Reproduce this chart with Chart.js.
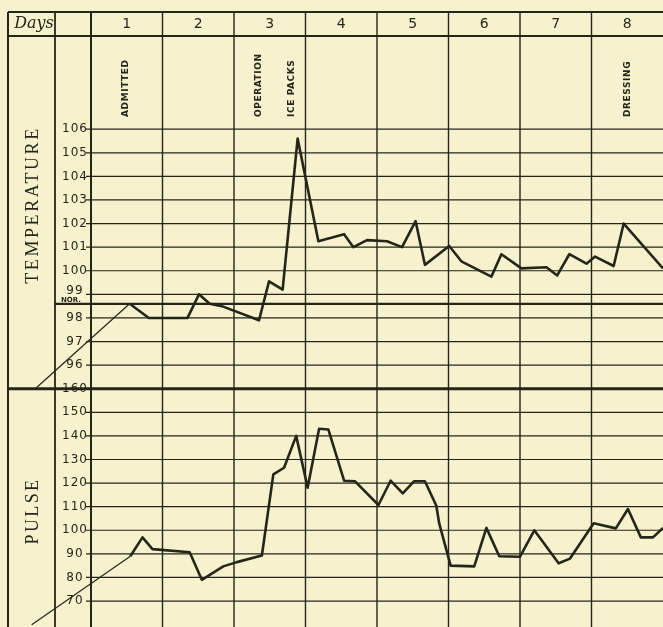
<!DOCTYPE html>
<html>
<head>
<meta charset="utf-8">
<script src="https://cdn.jsdelivr.net/npm/chart.js@4.4.1/dist/chart.umd.min.js"></script>
<style>
  html, body { margin: 0; padding: 0; background: #f5f2cd; }
  #wrap { width: 663px; height: 627px; }
</style>
</head>
<body>
<div id="wrap"><canvas id="chart" width="663" height="627"></canvas></div>
<script>
// readings: x is time in days since admission (day 1 starts at 0)
var tempDays = [0.54, 0.81, 1.35, 1.51, 1.66, 1.83, 2.35, 2.49, 2.68, 2.89, 3.18, 3.54, 3.67, 3.86,
    4.14, 4.35, 4.54, 4.67, 5.01, 5.18, 5.60, 5.74, 6.02, 6.37, 6.52, 6.69, 6.93, 7.05, 7.31, 7.45, 8.0];
var tempValues = [98.6, 98.0, 98.0, 99.0, 98.6, 98.5, 97.9, 99.55, 99.2, 105.6, 101.25, 101.55, 101.0, 101.3,
    101.25, 101.0, 102.1, 100.25, 101.05, 100.4, 99.75, 100.7, 100.1, 100.15, 99.8, 100.7, 100.3, 100.6, 100.2, 102.0, 100.1];

var pulseDays = [0.55, 0.72, 0.86, 1.38, 1.55, 1.85, 2.04, 2.39, 2.55, 2.70, 2.87, 3.03, 3.19, 3.32,
    3.54, 3.69, 4.02, 4.19, 4.36, 4.52, 4.67, 4.83, 4.87, 5.03, 5.36, 5.53, 5.71, 6.0, 6.2,
    6.54, 6.70, 7.03, 7.34, 7.51, 7.69, 7.86, 8.0];
var pulseValues = [89, 97, 92, 90.7, 79, 84.7, 86.5, 89.3, 123.7, 126.5, 140, 118, 143, 142.7,
    121, 120.8, 110.7, 121, 115.6, 120.8, 120.8, 110.4, 102.9, 85, 84.7, 101, 89, 88.8, 100,
    86, 88, 103, 100.8, 109, 97, 97, 101];

// thin lead-in lines from the margin to the first reading
var tempLeadDays = [-0.78, 0.54];
var tempLeadValues = [95, 98.6];
var pulseLeadDays = [-0.83, 0.55];
var pulseLeadValues = [60, 89];

var dayLabels = ['1', '2', '3', '4', '5', '6', '7', '8'];
var tempTicks = [106, 105, 104, 103, 102, 101, 100, 99, 98, 97, 96];
var pulseTicks = [160, 150, 140, 130, 120, 110, 100, 90, 80, 70];
var normalTemp = 98.6;
var noteLabels = ['ADMITTED', 'OPERATION', 'ICE PACKS', 'DRESSING'];
var noteDays = [0.48, 2.34, 2.8, 7.5];

var ink = '#262519';

function points(xs, ys) {
    var out = [];
    for (var i = 0; i < xs.length; i++) {
        out.push({x: xs[i], y: ys[i]});
    }
    return out;
}

var sheet = {
    id: 'sheet',
    beforeDatasetsDraw: function (chart) {
        var ctx = chart.ctx;
        var x = chart.scales.x, yT = chart.scales.yT, yP = chart.scales.yP;
        var area = chart.chartArea;
        var left = 8, labelCol = 55, top = 12;
        var right = chart.width, bottom = chart.height;

        ctx.save();
        ctx.strokeStyle = ink;
        ctx.fillStyle = ink;

        function hline(y, x0, w) {
            ctx.lineWidth = w;
            ctx.beginPath();
            ctx.moveTo(x0, y);
            ctx.lineTo(right, y);
            ctx.stroke();
        }
        function vline(xp, y0, y1, w) {
            ctx.lineWidth = w;
            ctx.beginPath();
            ctx.moveTo(xp, y0);
            ctx.lineTo(xp, y1);
            ctx.stroke();
        }

        // ruled lines
        tempTicks.forEach(function (t) { hline(yT.getPixelForValue(t), area.left - 5, 1.2); });
        pulseTicks.slice(1).forEach(function (p) { hline(yP.getPixelForValue(p), area.left - 5, 1.2); });
        hline(yT.getPixelForValue(normalTemp), labelCol, 2.2);
        hline(yP.getPixelForValue(160), left, 3);
        hline(top, left, 2);
        hline(area.top, left, 2);

        vline(left, top, bottom, 2);
        vline(labelCol, top, bottom, 1.8);
        for (var d = 0; d < dayLabels.length; d++) {
            vline(x.getPixelForValue(d), top, bottom, d === 0 ? 2 : 1.4);
        }

        // header
        ctx.textAlign = 'center';
        ctx.textBaseline = 'middle';
        ctx.font = 'italic 16px "DejaVu Serif"';
        ctx.fillText('Days', 34, 24);
        ctx.font = '14px "DejaVu Sans"';
        dayLabels.forEach(function (lab, i) {
            ctx.fillText(lab, x.getPixelForValue(i + 0.5), 24);
        });

        // tick labels
        ctx.font = '12px "DejaVu Sans"';
        ctx.letterSpacing = '1px';
        tempTicks.forEach(function (t) {
            ctx.fillText(String(t), 75, yT.getPixelForValue(t) + (t === 99 ? -3 : 0));
        });
        pulseTicks.forEach(function (p) {
            ctx.fillText(String(p), 75, yP.getPixelForValue(p));
        });
        ctx.font = 'bold 7px "DejaVu Sans"';
        ctx.letterSpacing = '0px';
        ctx.fillText('NOR.', 71, yT.getPixelForValue(normalTemp) - 4);

        // side titles
        ctx.save();
        ctx.translate(33, 205);
        ctx.rotate(-Math.PI / 2);
        ctx.font = '18px "Liberation Serif"';
        ctx.letterSpacing = '2.6px';
        ctx.fillText('TEMPERATURE', 0, 0);
        ctx.restore();

        ctx.save();
        ctx.translate(33, 511);
        ctx.rotate(-Math.PI / 2);
        ctx.font = '18px "Liberation Serif"';
        ctx.letterSpacing = '2.4px';
        ctx.fillText('PULSE', 0, 0);
        ctx.restore();

        // notes written up the columns
        ctx.font = 'bold 9px "DejaVu Sans"';
        ctx.letterSpacing = '0.6px';
        ctx.textAlign = 'left';
        noteLabels.forEach(function (lab, i) {
            ctx.save();
            ctx.translate(x.getPixelForValue(noteDays[i]), 117);
            ctx.rotate(-Math.PI / 2);
            ctx.fillText(lab, 0, 0);
            ctx.restore();
        });

        ctx.restore();
    }
};

var ctx = document.getElementById('chart').getContext('2d');
new Chart(ctx, {
    type: 'line',
    data: {
        datasets: [
            {
                data: points(tempDays, tempValues),
                yAxisID: 'yT',
                borderColor: ink,
                borderWidth: 2.6,
                borderJoinStyle: 'round',
                pointRadius: 0,
                tension: 0
            },
            {
                data: points(pulseDays, pulseValues),
                yAxisID: 'yP',
                borderColor: ink,
                borderWidth: 2.6,
                borderJoinStyle: 'round',
                pointRadius: 0,
                tension: 0
            },
            {
                data: points(tempLeadDays, tempLeadValues),
                yAxisID: 'yT',
                borderColor: ink,
                borderWidth: 1.2,
                pointRadius: 0,
                clip: false
            },
            {
                data: points(pulseLeadDays, pulseLeadValues),
                yAxisID: 'yP',
                borderColor: ink,
                borderWidth: 1.2,
                pointRadius: 0,
                clip: false
            }
        ]
    },
    options: {
        responsive: false,
        animation: false,
        layout: {padding: {left: 91, right: 0, top: 36, bottom: 0}},
        scales: {
            x: {type: 'linear', min: 0, max: 8, display: false},
            yT: {type: 'linear', min: 84.9, max: 109.95, display: false},
            yP: {type: 'linear', min: 59, max: 309.5, display: false}
        },
        plugins: {
            legend: {display: false},
            tooltip: {enabled: false}
        }
    },
    plugins: [sheet]
});
</script>
</body>
</html>
